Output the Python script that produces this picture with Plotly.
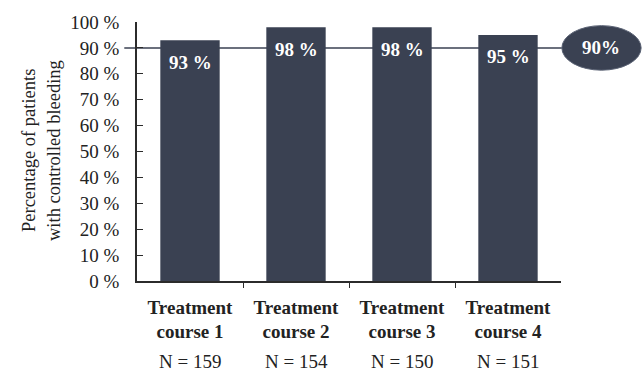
import plotly.graph_objects as go

# Data
courses = ["Treatment<br>course 1", "Treatment<br>course 2", "Treatment<br>course 3", "Treatment<br>course 4"]
controlled_pct = [93, 98, 98, 95]
n_patients = [159, 154, 150, 151]
threshold = 90
y_ticks = [0, 10, 20, 30, 40, 50, 60, 70, 80, 90, 100]

BAR = "#3a4152"
AXIS = "#2b2b2b"
SERIF = "Liberation Serif, serif"

xpos = list(range(1, len(courses) + 1))

fig = go.Figure()
fig.add_trace(go.Bar(
    x=xpos, y=controlled_pct, marker=dict(color=BAR, line=dict(width=0)),
    width=0.56, hoverinfo="skip", showlegend=False,
))
# helper trace so the boundary-tick axis gets drawn
fig.add_trace(go.Scatter(x=[1], y=[0], xaxis="x2", mode="markers",
                         marker=dict(opacity=0), hoverinfo="skip", showlegend=False))

fig.update_layout(
    width=643, height=376,
    margin=dict(l=137, r=82, t=18, b=95),
    paper_bgcolor="white", plot_bgcolor="white",
    font=dict(family=SERIF, size=18, color="#222"),
    xaxis=dict(
        range=[0.5, 4.5], tickvals=xpos,
        ticktext=[f"<b>{c}</b>" for c in courses],
        ticks="", showgrid=False, zeroline=False,
        showline=True, linecolor=AXIS, linewidth=1.5,
        tickfont=dict(size=19, color="#222"), ticklabelstandoff=8,
    ),
    xaxis2=dict(
        range=[0.5, 4.5], overlaying="x", anchor="y", side="bottom",
        tickvals=[1.5, 2.5, 3.5], ticks="outside", ticklen=6, tickwidth=1.3,
        tickcolor=AXIS, showticklabels=False, showgrid=False, zeroline=False,
        showline=False,
    ),
    yaxis=dict(
        range=[0, 100], tickvals=y_ticks, ticktext=[f"{v} %" for v in y_ticks],
        ticks="inside", ticklen=6, tickwidth=1.3, tickcolor=AXIS,
        showgrid=False, zeroline=False, showline=True, linecolor=AXIS, linewidth=1.5,
        tickfont=dict(size=19, color="#222"), ticklabelstandoff=12,
    ),
    bargap=0.44,
)

# 90 % reference line, behind the bars
fig.add_shape(type="line", xref="paper", yref="paper",
              x0=-0.03, x1=1.002, y0=threshold / 100, y1=threshold / 100,
              line=dict(color=BAR, width=1.5), layer="below")
# oval badge for the reference value
fig.add_shape(type="circle", xref="paper", yref="paper",
              x0=1.002, x1=1.189, y0=threshold / 100 - 0.086, y1=threshold / 100 + 0.086,
              fillcolor=BAR, line=dict(color="#5a6274", width=1), layer="above")
fig.add_annotation(xref="paper", yref="paper", x=1.0955, y=threshold / 100,
                   xanchor="center", yanchor="middle",
                   text=f"<b>{threshold}%</b>", showarrow=False,
                   font=dict(size=19, color="white", family=SERIF))

# value labels inside the bars
for x, v in zip(xpos, controlled_pct):
    fig.add_annotation(x=x, y=v, text=f"<b>{v} %</b>", showarrow=False,
                       xanchor="center", yanchor="middle", yshift=-22,
                       font=dict(size=19, color="white", family=SERIF))

# sample sizes below the category labels
for x, n in zip(xpos, n_patients):
    fig.add_annotation(x=x, xref="x", yref="paper", y=-0.3106, text=f"N = {n}",
                       showarrow=False, xanchor="center", yanchor="middle",
                       font=dict(size=19, color="#222", family=SERIF))

# y-axis title, two rotated lines
for xp, line in [(29, "Percentage of patients"), (54, "with controlled bleeding")]:
    fig.add_annotation(xref="paper", yref="paper", x=(xp - 137) / 424, y=(281 - 149) / 263,
                       text=line, textangle=-90, showarrow=False,
                       xanchor="center", yanchor="middle",
                       font=dict(size=18.5, color="#222", family=SERIF))

fig.write_html("out.html")
